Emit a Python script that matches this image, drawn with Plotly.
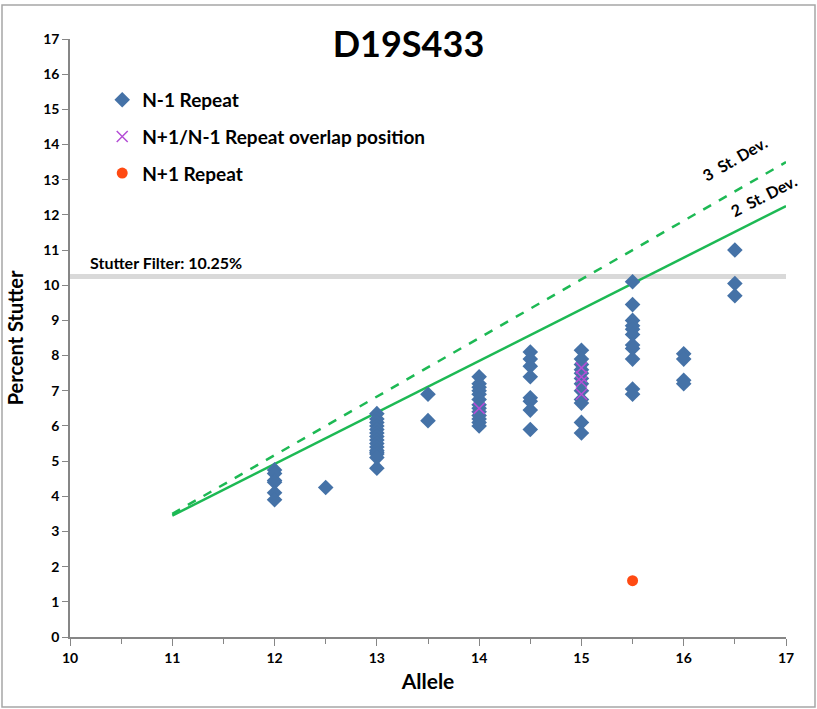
import plotly.graph_objects as go

# N-1 repeat data (allele, percent stutter)
n1_x = ([12]*6 + [12.5] + [13]*15 + [13.5]*2 + [14]*13 + [14.5]*8 + [15]*12
        + [15.5]*11 + [16]*4 + [16.5]*3)
n1_y = ([4.75, 4.65, 4.45, 4.4, 4.1, 3.9]
        + [4.25]
        + [6.35, 6.2, 6.1, 6.0, 5.9, 5.8, 5.7, 5.6, 5.5, 5.4, 5.3, 5.25, 5.2, 5.1, 4.8]
        + [6.9, 6.15]
        + [7.4, 7.2, 7.1, 7.0, 6.9, 6.75, 6.6, 6.5, 6.4, 6.3, 6.2, 6.1, 6.0]
        + [8.1, 7.9, 7.7, 7.4, 6.8, 6.7, 6.45, 5.9]
        + [8.15, 7.9, 7.75, 7.6, 7.5, 7.35, 7.2, 7.0, 6.75, 6.65, 6.1, 5.8]
        + [10.1, 9.45, 9.0, 8.85, 8.75, 8.6, 8.3, 8.2, 7.9, 7.05, 6.9]
        + [8.05, 7.9, 7.3, 7.2]
        + [11.0, 10.05, 9.7])

# N+1/N-1 overlap positions
ov_x = [14, 15, 15, 15, 15]
ov_y = [6.5, 7.65, 7.4, 7.25, 6.9]

# N+1 repeat
np1_x = [15.5]
np1_y = [1.6]

# Threshold lines
sd2_x = [11, 17]
sd2_y = [3.45, 12.25]
sd3_x = [11, 17]
sd3_y = [3.5, 13.5]
stutter_filter = 10.25

FONT = "Lato"

fig = go.Figure()
fig.add_trace(go.Scatter(x=[10, 17], y=[stutter_filter]*2, mode="lines",
                         line=dict(color="#D9D9D9", width=5), showlegend=False, hoverinfo="skip"))
fig.add_trace(go.Scatter(x=sd3_x, y=sd3_y, mode="lines",
                         line=dict(color="#1DB954", width=2.5, dash="dash"), showlegend=False))
fig.add_trace(go.Scatter(x=sd2_x, y=sd2_y, mode="lines",
                         line=dict(color="#1DB954", width=2.5), showlegend=False))
fig.add_trace(go.Scatter(x=n1_x, y=n1_y, mode="markers", name="<b>N-1 Repeat</b>", legendgroup="a",
                         marker=dict(symbol="diamond", size=12, color="#4572A7")))
fig.add_trace(go.Scatter(x=ov_x, y=ov_y, mode="markers", name="<b>N+1/N-1 Repeat overlap position</b>",
                         legendgroup="b",
                         marker=dict(symbol="x-thin", size=11, color="#B54FD6",
                                     line=dict(width=1.5, color="#B54FD6"))))
fig.add_trace(go.Scatter(x=np1_x, y=np1_y, mode="markers", name="<b>N+1 Repeat</b>", legendgroup="c",
                         marker=dict(symbol="circle", size=11, color="#FF4A12")))

fig.update_layout(
    width=817, height=709,
    margin=dict(l=70, r=31, t=39, b=72),
    plot_bgcolor="white", paper_bgcolor="white",
    font=dict(family=FONT, color="black"),
    title=dict(text="<b>D19S433</b>", x=0.5, xanchor="center", y=0.938, yanchor="middle",
               font=dict(size=36, family=FONT)),
    legend=dict(x=0.045, y=0.93, xanchor="left", yanchor="top",
                bgcolor="rgba(0,0,0,0)", font=dict(size=19, family=FONT),
                tracegroupgap=9),
    showlegend=True,
)
fig.update_xaxes(range=[10, 17], dtick=1, showgrid=False, zeroline=False,
                 showline=True, linecolor="#868686", linewidth=1.5,
                 ticks="outside", ticklen=7, tickcolor="#868686",
                 minor=dict(dtick=0.5, ticks="outside", ticklen=5, tickcolor="#868686"),
                 tickfont=dict(size=14, family=FONT, weight="bold"),
                 title=dict(text="<b>Allele</b>", font=dict(size=21, family=FONT), standoff=10))
fig.update_yaxes(range=[0, 17], dtick=1, showgrid=False, zeroline=False,
                 showline=True, linecolor="#868686", linewidth=1.5,
                 ticks="outside", ticklen=6, tickcolor="#868686",
                 tickfont=dict(size=14, family=FONT, weight="bold"),
                 title=dict(text="<b>Percent Stutter</b>", font=dict(size=20, family=FONT), standoff=14))

fig.add_annotation(x=10.18, y=stutter_filter, yshift=14, xanchor="left", text="<b>Stutter Filter: 10.25%</b>",
                   showarrow=False, font=dict(size=16, family=FONT))
fig.add_annotation(x=16.5, y=13.6, text="<b>3  St. Dev.</b>", textangle=-30,
                   showarrow=False, font=dict(size=16, family=FONT))
fig.add_annotation(x=16.78, y=12.55, text="<b>2  St. Dev.</b>", textangle=-27,
                   showarrow=False, font=dict(size=16, family=FONT))

# outer chart frame
fig.add_shape(type="rect", xref="paper", yref="paper",
              x0=-68/716, x1=1+29/716, y0=-70/598, y1=1+34/598,
              line=dict(color="#A6A6A6", width=1.5), fillcolor="rgba(0,0,0,0)")

fig.write_html("out.html")
